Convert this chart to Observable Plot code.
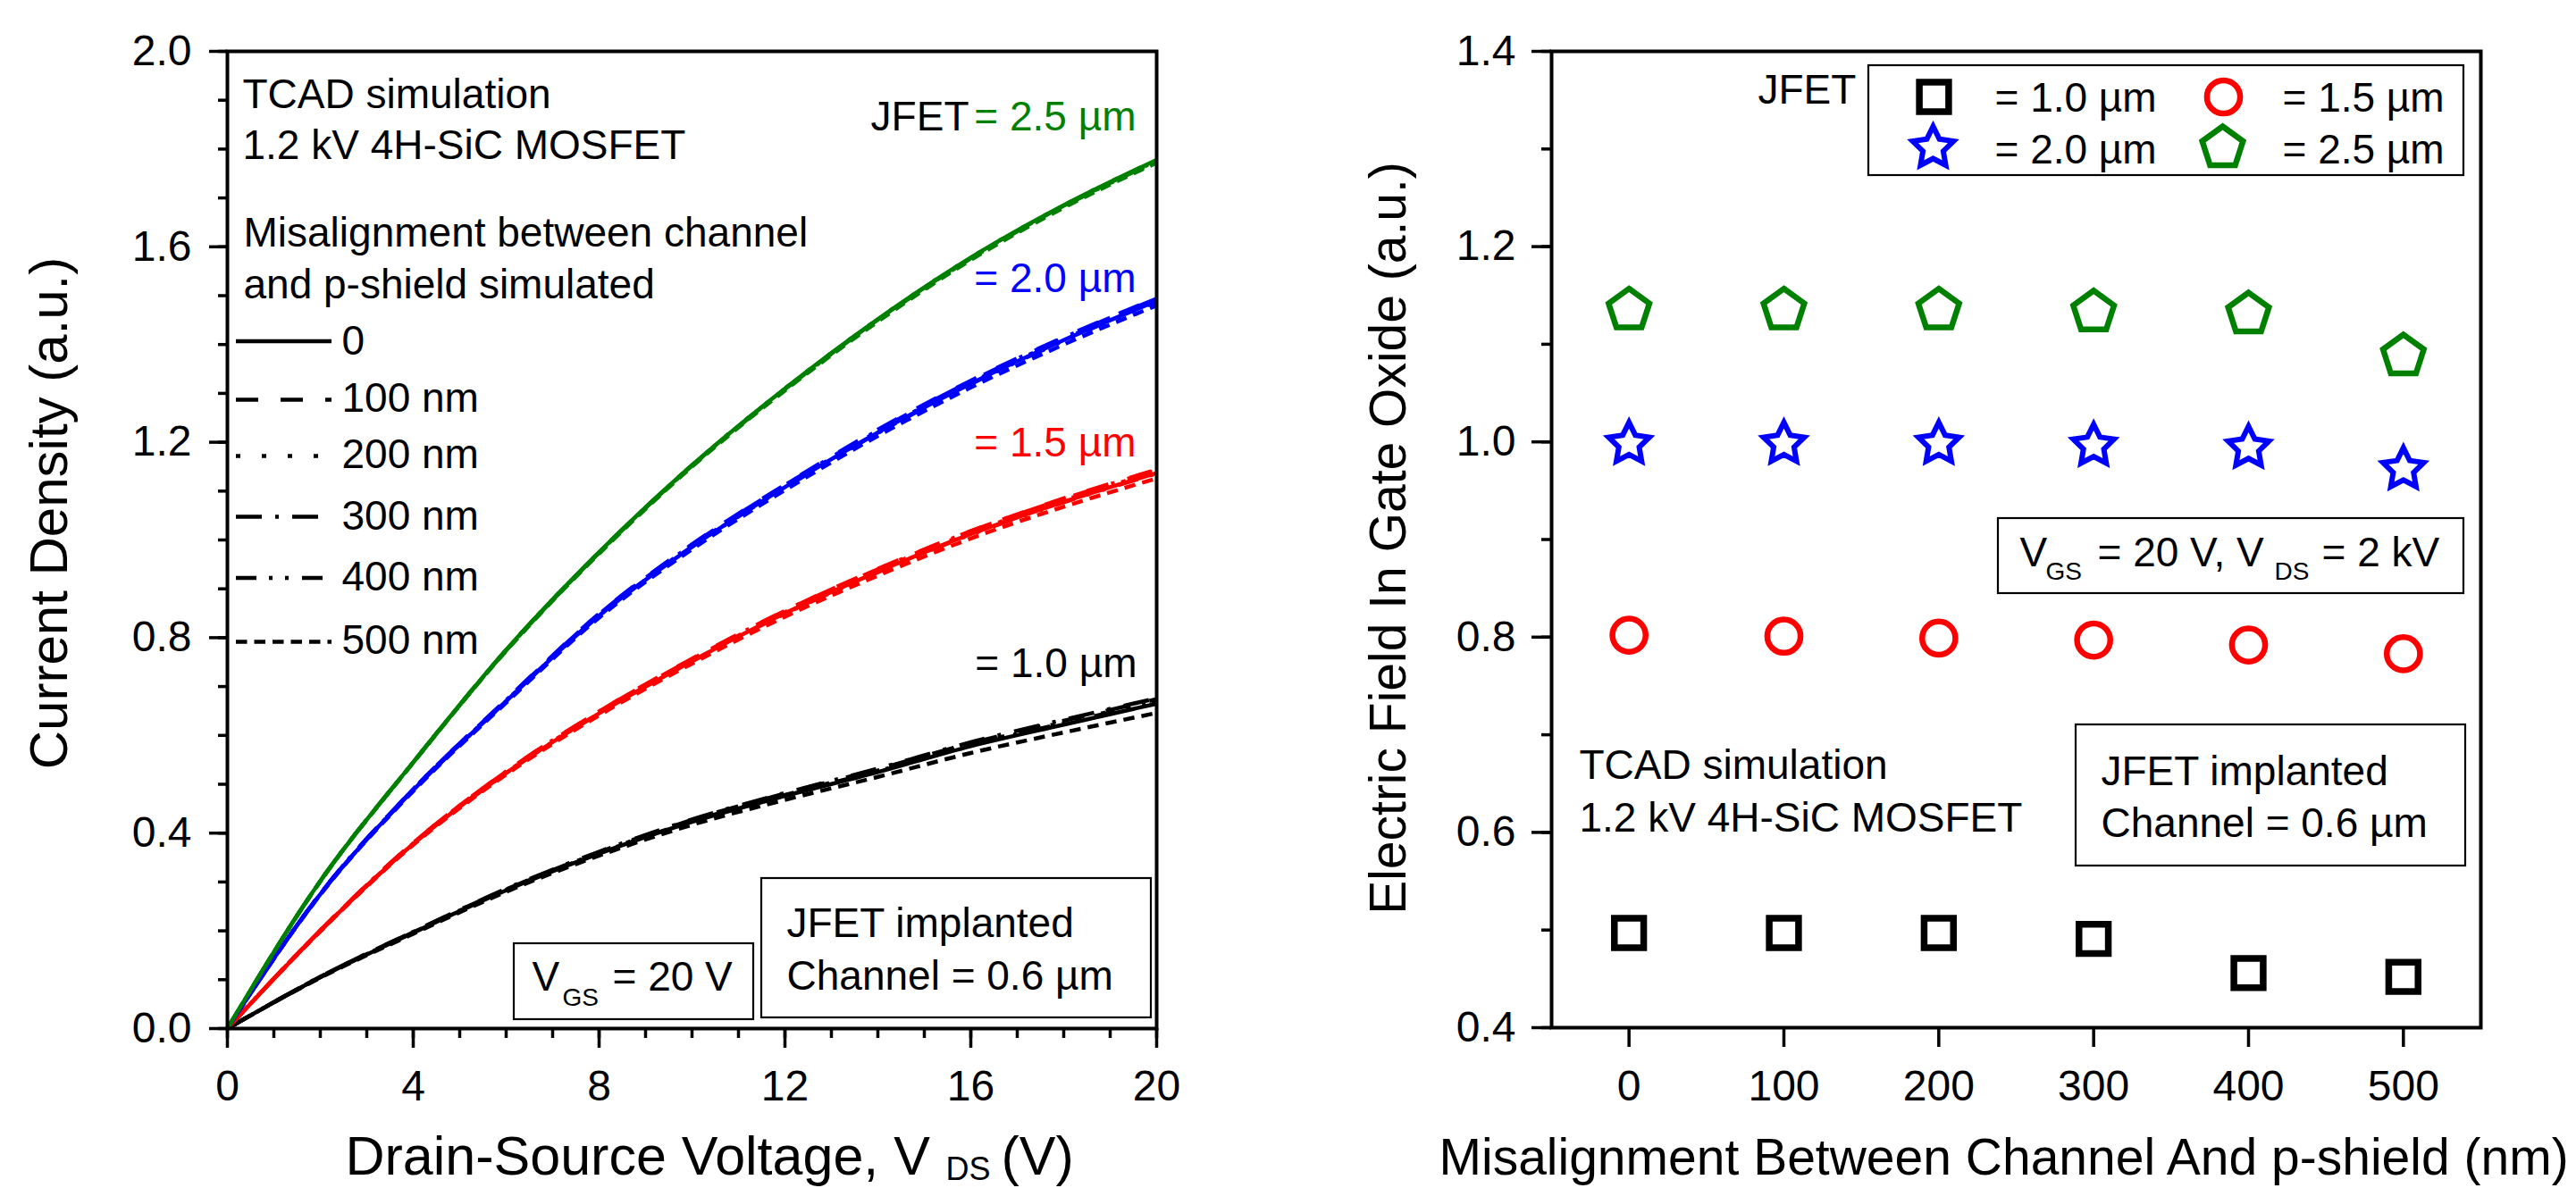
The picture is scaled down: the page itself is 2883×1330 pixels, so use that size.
<!DOCTYPE html>
<html>
<head>
<meta charset="utf-8">
<script src="https://cdn.jsdelivr.net/npm/d3@7"></script>
<script src="https://cdn.jsdelivr.net/npm/@observablehq/plot@0.6"></script>
<style>
html, body { margin: 0; padding: 0; background: #fff; }
#wrap { position: relative; width: 2883px; height: 1330px; overflow: hidden; background: #fff; }
#left { position: absolute; left: 0; top: 0; }
#right { position: absolute; left: 1440px; top: 0; }
svg { overflow: visible; }
</style>
</head>
<body>
<div id="wrap"><div id="left"></div><div id="right"></div></div>
<script>
// ---------------- DATA ----------------
// Left panel: current density vs V_DS for each JFET width, 6 misalignments each
const vds = [0, 2, 4, 6, 8, 10, 12, 14, 16, 18, 20];
const misalignments = ["0", "100 nm", "200 nm", "300 nm", "400 nm", "500 nm"];
const jfetWidths = ["1.0", "1.5", "2.0", "2.5"];

const jfet10 = [
  [0, 0.105, 0.196, 0.283, 0.358, 0.423, 0.476, 0.525, 0.578, 0.622, 0.665],
  [0, 0.106, 0.198, 0.285, 0.361, 0.427, 0.481, 0.531, 0.584, 0.630, 0.674],
  [0, 0.105, 0.197, 0.284, 0.360, 0.425, 0.479, 0.528, 0.581, 0.627, 0.670],
  [0, 0.106, 0.198, 0.286, 0.362, 0.428, 0.482, 0.532, 0.586, 0.632, 0.676],
  [0, 0.105, 0.197, 0.284, 0.359, 0.424, 0.478, 0.527, 0.580, 0.625, 0.668],
  [0, 0.104, 0.194, 0.280, 0.354, 0.417, 0.468, 0.515, 0.564, 0.606, 0.646]
];
const jfet15 = [
  [0, 0.200, 0.378, 0.523, 0.645, 0.752, 0.850, 0.935, 1.012, 1.078, 1.137],
  [0, 0.201, 0.380, 0.526, 0.649, 0.757, 0.855, 0.941, 1.018, 1.085, 1.144],
  [0, 0.200, 0.379, 0.524, 0.647, 0.754, 0.852, 0.938, 1.015, 1.081, 1.140],
  [0, 0.201, 0.380, 0.526, 0.649, 0.756, 0.855, 0.940, 1.018, 1.084, 1.143],
  [0, 0.200, 0.378, 0.523, 0.645, 0.752, 0.849, 0.934, 1.011, 1.077, 1.136],
  [0, 0.199, 0.376, 0.520, 0.641, 0.747, 0.843, 0.927, 1.003, 1.068, 1.126]
];
const jfet20 = [
  [0, 0.275, 0.488, 0.670, 0.845, 0.986, 1.108, 1.220, 1.320, 1.409, 1.489],
  [0, 0.276, 0.490, 0.673, 0.849, 0.991, 1.113, 1.226, 1.326, 1.415, 1.495],
  [0, 0.275, 0.489, 0.671, 0.847, 0.988, 1.110, 1.222, 1.322, 1.411, 1.491],
  [0, 0.276, 0.490, 0.672, 0.848, 0.990, 1.112, 1.224, 1.325, 1.414, 1.494],
  [0, 0.275, 0.488, 0.670, 0.845, 0.986, 1.107, 1.219, 1.319, 1.408, 1.488],
  [0, 0.274, 0.486, 0.667, 0.841, 0.981, 1.102, 1.213, 1.312, 1.400, 1.480]
];
const jfet25 = [
  [0, 0.302, 0.545, 0.775, 0.975, 1.153, 1.310, 1.452, 1.578, 1.685, 1.778],
  [0, 0.302, 0.545, 0.775, 0.975, 1.153, 1.309, 1.451, 1.577, 1.684, 1.777],
  [0, 0.302, 0.545, 0.775, 0.975, 1.153, 1.310, 1.452, 1.578, 1.685, 1.778],
  [0, 0.302, 0.545, 0.774, 0.974, 1.152, 1.309, 1.451, 1.577, 1.684, 1.776],
  [0, 0.302, 0.545, 0.774, 0.974, 1.152, 1.308, 1.450, 1.576, 1.683, 1.775],
  [0, 0.301, 0.544, 0.773, 0.972, 1.150, 1.306, 1.447, 1.573, 1.680, 1.772]
];

// Right panel: electric field in gate oxide vs misalignment
const misalignNm = [0, 100, 200, 300, 400, 500];
const field10 = [0.497, 0.497, 0.497, 0.491, 0.456, 0.452];
const field15 = [0.802, 0.801, 0.799, 0.797, 0.792, 0.783];
const field20 = [0.998, 0.998, 0.998, 0.996, 0.994, 0.972];
const field25 = [1.135, 1.135, 1.135, 1.133, 1.131, 1.088];

// Ticks
const leftYMajor = [0, 0.4, 0.8, 1.2, 1.6, 2.0];
const leftYMinor = d3.range(0, 21).map(i => i / 10);
const leftXMajor = [0, 4, 8, 12, 16, 20];
const leftXMinor = d3.range(0, 21);
const rightYMajor = [0.4, 0.6, 0.8, 1.0, 1.2, 1.4];
const rightYMinor = d3.range(4, 15).map(i => i / 10);
const rightXTicks = [0, 100, 200, 300, 400, 500];

// ---------------- LAYOUT / STYLE ----------------
const H = 1330, LW = 1440, RW = 1443, RX0 = 1440;
const Lm = {top: 57, right: 146, bottom: 179, left: 254};
const Rm = {top: 57, right: 107, bottom: 180, left: 296};
const FONT = "'Liberation Sans', Arial, Helvetica, sans-serif";
const widthColors = ["#000000", "#ff0000", "#0000ff", "#008000"];
const dashes = [null, "25,25", "5,24", "29,15,4,15", "23,14,4,14,4,15", "12.5,8"];

// pixel -> data helpers for annotation placement
const xL = px => (px - Lm.left) / (LW - Lm.left - Lm.right) * 20;
const yL = py => (H - Lm.bottom - py) / (H - Lm.top - Lm.bottom) * 2;
const xR = px => -50 + (px - RX0 - Rm.left) / (RW - Rm.left - Rm.right) * 600;
const yR = py => 0.4 + (H - Rm.bottom - py) / (H - Rm.top - Rm.bottom) * 1.0;

function txt(s, x, y, opts = {}) {
  return Plot.text([s], {x, y, text: d => d, textAnchor: "start", lineAnchor: "bottom",
    fontSize: 46, fill: "black", fontFamily: FONT, ...opts});
}
function box(x1, y1, x2, y2) {
  return Plot.rect([0], {x1, x2, y1, y2, fill: "white", stroke: "black", strokeWidth: 2.2});
}
// axis helpers (ticks outside the frame, drawn through the scales)
function yTicks(vals, xa, xb) { return Plot.ruleY(vals, {y: d => d, x1: xa, x2: xb, stroke: "black", strokeWidth: 3.5}); }
function xTicks(vals, ya, yb) { return Plot.ruleX(vals, {x: d => d, y1: ya, y2: yb, stroke: "black", strokeWidth: 3.5}); }

// ---------------- LEFT PANEL ----------------
const tables = [jfet10, jfet15, jfet20, jfet25];
const curveRows = [];
jfetWidths.forEach((w, wi) => {
  misalignments.forEach((m, mi) => {
    vds.forEach((v, k) => curveRows.push({vds: v, j: tables[wi][mi][k], width: w, mis: m}));
  });
});

const lineMarks = misalignments.map((m, mi) =>
  Plot.line(curveRows.filter(d => d.mis === m), {
    x: "vds", y: "j", z: "width", stroke: "width", strokeWidth: 4.5,
    strokeDasharray: dashes[mi], strokeLinecap: "butt", curve: "monotone-x"
  })
);

const legendLineY = [381.5, 447, 510, 578, 646.5, 718];
const legendTextY = [396, 460, 523, 592, 660, 731];
const legendMarks = [];
misalignments.forEach((m, mi) => {
  legendMarks.push(Plot.ruleY([yL(legendLineY[mi])], {y: d => d, x1: xL(264), x2: xL(371), stroke: "black",
    strokeWidth: 4.5, strokeDasharray: dashes[mi], strokeLinecap: "butt"}));
  legendMarks.push(txt(m, xL(382), yL(legendTextY[mi])));
});

const left = Plot.plot({
  width: LW, height: H,
  marginTop: Lm.top, marginRight: Lm.right, marginBottom: Lm.bottom, marginLeft: Lm.left,
  style: {fontFamily: FONT, background: "white", color: "black", overflow: "visible"},
  x: {domain: [0, 20], axis: null},
  y: {domain: [0, 2], axis: null},
  color: {domain: jfetWidths, range: widthColors},
  marks: [
    yTicks(leftYMinor, xL(244), xL(254)),
    yTicks(leftYMajor, xL(234), xL(254)),
    Plot.text(leftYMajor, {x: xL(214), y: d => d, text: d3.format(".1f"), textAnchor: "end", lineAnchor: "middle", fontSize: 48, fill: "black", fontFamily: FONT}),
    xTicks(leftXMinor, yL(1151), yL(1162)),
    xTicks(leftXMajor, yL(1151), yL(1173)),
    Plot.text(leftXMajor, {x: d => d, y: yL(1231), text: d3.format("d"), textAnchor: "middle", lineAnchor: "bottom", fontSize: 48, fill: "black", fontFamily: FONT}),
    ...lineMarks,
    box(xL(575), yL(1056), xL(843), yL(1141)),
    box(xL(852), yL(983), xL(1288), yL(1139)),
    Plot.frame({stroke: "black", strokeWidth: 4}),
    txt("TCAD simulation", xL(271), yL(120)),
    txt("1.2 kV 4H-SiC MOSFET", xL(271), yL(177)),
    txt("Misalignment between channel", xL(272), yL(275)),
    txt("and p-shield simulated", xL(272), yL(333)),
    ...legendMarks,
    txt("JFET", xL(1084), yL(145), {textAnchor: "end"}),
    txt("= 2.5 µm", xL(1271), yL(145), {textAnchor: "end", fill: widthColors[3]}),
    txt("= 2.0 µm", xL(1271), yL(326), {textAnchor: "end", fill: widthColors[2]}),
    txt("= 1.5 µm", xL(1271), yL(510), {textAnchor: "end", fill: widthColors[1]}),
    txt("= 1.0 µm", xL(1272), yL(757), {textAnchor: "end", fill: widthColors[0]}),
    txt("V", xL(595), yL(1108.5)),
    txt("GS", xL(629), yL(1125), {fontSize: 28}),
    txt("= 20 V", xL(685), yL(1108.5)),
    txt("JFET implanted", xL(880), yL(1048)),
    txt("Channel = 0.6 µm", xL(880), yL(1107)),
    txt("Current Density (a.u.)", xL(74), yL(574), {rotate: -90, textAnchor: "middle", fontSize: 60}),
    txt("Drain-Source Voltage, V", xL(386), yL(1314), {fontSize: 61}),
    txt("DS", xL(1058), yL(1320), {fontSize: 36}),
    txt("(V)", xL(1120), yL(1314), {fontSize: 61})
  ]
});
document.getElementById("left").appendChild(left);

// ---------------- RIGHT PANEL ----------------
function polySymbol(n, outerK, innerK) {
  return {
    draw(ctx, size) {
      const r = Math.sqrt(size / Math.PI);
      const R = r * outerK, Ri = innerK ? R * innerK : null;
      const pts = [];
      for (let i = 0; i < n; i++) {
        const a = -Math.PI / 2 + i * 2 * Math.PI / n;
        pts.push([R * Math.cos(a), R * Math.sin(a)]);
        if (Ri) {
          const b = a + Math.PI / n;
          pts.push([Ri * Math.cos(b), Ri * Math.sin(b)]);
        }
      }
      ctx.moveTo(pts[0][0], pts[0][1]);
      for (let i = 1; i < pts.length; i++) ctx.lineTo(pts[i][0], pts[i][1]);
      ctx.closePath();
    }
  };
}
const squareSym = {
  draw(ctx, size) {
    const h = Math.sqrt(size / Math.PI) * 0.82;
    ctx.moveTo(-h, -h); ctx.lineTo(h, -h); ctx.lineTo(h, h); ctx.lineTo(-h, h); ctx.closePath();
  }
};
const circleSym = {
  draw(ctx, size) {
    const R = Math.sqrt(size / Math.PI) * 0.93;
    ctx.moveTo(R, 0); ctx.arc(0, 0, R, 0, 2 * Math.PI); ctx.closePath();
  }
};
const starSym = polySymbol(5, 1.2, 0.5);
const pentagonSym = polySymbol(5, 1.2, null);

const fieldTables = [field10, field15, field20, field25];
const markerSyms = [squareSym, circleSym, starSym, pentagonSym];
const markerSW = [7.5, 6.5, 6, 6.5];

const dotMarks = jfetWidths.map((w, wi) =>
  Plot.dot(misalignNm.map((m, k) => ({mis: m, field: fieldTables[wi][k]})), {
    x: "mis", y: "field", r: 20, symbol: markerSyms[wi], fill: "none",
    stroke: widthColors[wi], strokeWidth: markerSW[wi], strokeLinejoin: "miter"
  })
);

const legPos = [[2164, 108], [2488, 108], [2163, 165], [2487, 165]];
const legText = [[2232, 124], [2554, 124], [2232, 182], [2554, 182]];
const rightLegend = [];
jfetWidths.forEach((w, wi) => {
  rightLegend.push(Plot.dot([0], {x: xR(legPos[wi][0]), y: yR(legPos[wi][1]), r: 20, symbol: markerSyms[wi],
    fill: "none", stroke: widthColors[wi], strokeWidth: markerSW[wi]}));
  rightLegend.push(txt("= " + w + " µm", xR(legText[wi][0]), yR(legText[wi][1])));
});

const right = Plot.plot({
  width: RW, height: H,
  marginTop: Rm.top, marginRight: Rm.right, marginBottom: Rm.bottom, marginLeft: Rm.left,
  style: {fontFamily: FONT, background: "white", color: "black", overflow: "visible"},
  x: {domain: [-50, 550], axis: null},
  y: {domain: [0.4, 1.4], axis: null},
  marks: [
    yTicks(rightYMinor, xR(1725), xR(1736)),
    yTicks(rightYMajor, xR(1714), xR(1736)),
    Plot.text(rightYMajor, {x: xR(1696), y: d => d, text: d3.format(".1f"), textAnchor: "end", lineAnchor: "middle", fontSize: 48, fill: "black", fontFamily: FONT}),
    xTicks(rightXTicks, yR(1150), yR(1172)),
    Plot.text(rightXTicks, {x: d => d, y: yR(1231), text: d3.format("d"), textAnchor: "middle", lineAnchor: "bottom", fontSize: 48, fill: "black", fontFamily: FONT}),
    box(xR(2091), yR(73), xR(2757), yR(196)),
    box(xR(2236), yR(580), xR(2757), yR(664)),
    box(xR(2323), yR(811), xR(2759), yR(969)),
    Plot.frame({stroke: "black", strokeWidth: 4}),
    ...dotMarks,
    ...rightLegend,
    txt("JFET", xR(1967), yR(115)),
    txt("V", xR(2260), yR(633)),
    txt("GS", xR(2289), yR(648), {fontSize: 28}),
    txt("= 20 V, V", xR(2347), yR(633)),
    txt("DS", xR(2545), yR(648), {fontSize: 28}),
    txt("= 2 kV", xR(2598), yR(633)),
    txt("TCAD simulation", xR(1767), yR(871)),
    txt("1.2 kV 4H-SiC MOSFET", xR(1767), yR(930)),
    txt("JFET implanted", xR(2351), yR(878)),
    txt("Channel = 0.6 µm", xR(2351), yR(936)),
    txt("Electric Field In Gate Oxide (a.u.)", xR(1572), yR(602), {rotate: -90, textAnchor: "middle", fontSize: 57}),
    txt("Misalignment Between Channel And p-shield (nm)", xR(1610), yR(1314), {fontSize: 57})
  ]
});
document.getElementById("right").appendChild(right);
</script>
</body>
</html>
